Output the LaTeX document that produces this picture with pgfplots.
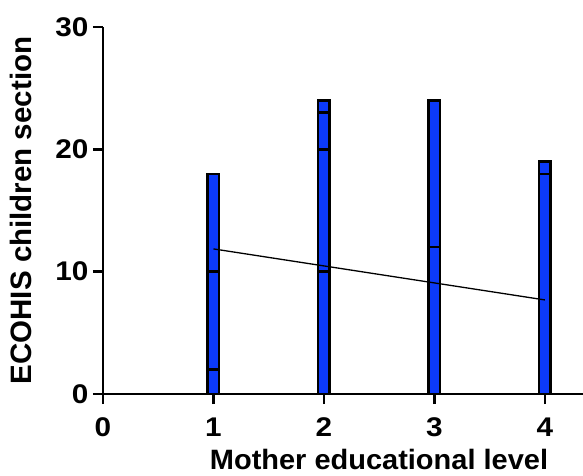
\documentclass[border=0pt]{standalone}
\usepackage{fontspec}
\setmainfont{Liberation Sans}
\newfontfamily\wide{Liberation Sans}[FakeStretch=1.1]
\newfontfamily\wideb{Liberation Sans}[FakeStretch=1.035]
\usepackage{pgfplots}
\pgfplotsset{compat=1.18}
\definecolor{barblue}{RGB}{12,58,250}
\begin{document}
\begin{tikzpicture}
\begin{axis}[
  scale only axis, width=480pt, height=367pt,
  xmin=0, xmax=4.345, ymin=0, ymax=30,
  axis x line=bottom, axis y line=left,
  axis line style={-, line width=2.5pt},
  xtick={0,1,2,3,4}, ytick={0,10,20,30},
  tick align=outside, major tick length=10pt,
  tick style={line width=2.5pt, black},
  /pgf/number format/assume math mode=true,
  ticklabel style={font=\wide\fontsize{27}{27}\selectfont\bfseries},
  xticklabel style={yshift=-10pt},
  yticklabel style={xshift=-1pt},
  xlabel={Mother educational level},
  ylabel={ECOHIS children section},
  xlabel style={font=\wideb\fontsize{28}{28}\selectfont\bfseries, at={(axis description cs:0.575,-0.205)}, anchor=base},
  ylabel style={font=\fontsize{29.5}{30}\selectfont\bfseries, at={(axis description cs:-0.148,0.5)}, anchor=base},
  clip=false,
]
\addplot[ybar, bar width=11.5pt, bar shift=0pt, fill=barblue, draw=black, line width=2.5pt] coordinates {(1,18) (2,24) (3,24) (4,19)};
\addplot[ybar, bar width=11.5pt, bar shift=0pt, fill=barblue, draw=black, line width=2.5pt] coordinates {(1,10) (2,23) (3,12) (4,18)};
\addplot[ybar, bar width=11.5pt, bar shift=0pt, fill=barblue, draw=black, line width=2.5pt] coordinates {(1,2) (2,20)};
\addplot[ybar, bar width=11.5pt, bar shift=0pt, fill=barblue, draw=black, line width=2.5pt] coordinates {(2,10)};
\addplot[black, line width=1.3pt, mark=none] coordinates {(1,11.86) (4,7.69)};
\coordinate (ll) at (rel axis cs:0,0);
\coordinate (ur) at (rel axis cs:1,1);
\end{axis}
\pgfresetboundingbox
\path[use as bounding box] ([shift={(-103pt,-82pt)}]ll) rectangle ([shift={(0pt,27pt)}]ur);
\end{tikzpicture}
\end{document}
